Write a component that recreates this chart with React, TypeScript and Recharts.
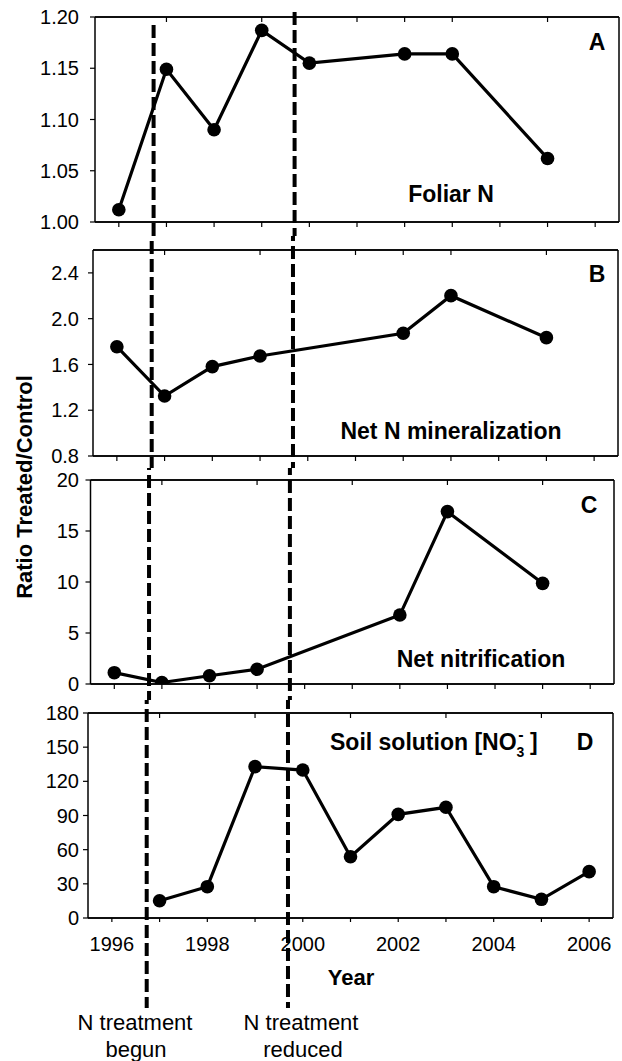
import React from 'react';
import { LineChart, Line, XAxis, YAxis, ReferenceLine } from 'recharts';

// ---------- data ----------
const yearsA = [1996, 1997, 1998, 1999, 2000, 2002, 2003, 2005];
const foliarN = [1.012, 1.149, 1.09, 1.187, 1.155, 1.164, 1.164, 1.062];

const yearsB = [1996, 1997, 1998, 1999, 2002, 2003, 2005];
const netMineralization = [1.755, 1.324, 1.581, 1.674, 1.872, 2.201, 1.834];

const yearsC = [1996, 1997, 1998, 1999, 2002, 2003, 2005];
const netNitrification = [1.11, 0.15, 0.81, 1.44, 6.76, 16.9, 9.87];

const yearsD = [1997, 1998, 1999, 2000, 2001, 2002, 2003, 2004, 2005, 2006];
const soilNO3 = [15.2, 27.5, 132.9, 129.9, 53.8, 91, 97.2, 27.5, 16.4, 40.7];

const yTicksA = [1.0, 1.05, 1.1, 1.15, 1.2];
const yTicksB = [0.8, 1.2, 1.6, 2.0, 2.4];
const yTicksC = [0, 5, 10, 15, 20];
const yTicksD = [0, 30, 60, 90, 120, 150, 180];

const yearTicks = [1996, 1997, 1998, 1999, 2000, 2001, 2002, 2003, 2004, 2005, 2006];
const yearLabels = [1996, 1998, 2000, 2002, 2004, 2006];
const topTicksAB = [1997, 1999, 2001, 2002, 2003, 2005];
const topTicksCD = [1997, 1999, 2001, 2003, 2005];

const treatmentYears = [1996.73, 1999.69];

const FONT = '"Liberation Sans", Arial, Helvetica, sans-serif';
const W = 622;
const H = 1061;
const X_DOMAIN: [number, number] = [1995.5, 2006.5];
const LINE_TOPS = [25, 12];
const LINE_BOTTOM = 1008;
const DASH = 13;
const GAP = 5;
const TICK_LEN = 5;

type PanelCfg = {
  key: string;
  top: number;
  height: number;
  plotTop: number;
  plotBottom: number;
  plotLeft: number;
  plotRight: number;
  domain: [number, number];
  yTicks: number[];
  decimals: number;
  years: number[];
  values: number[];
  topTicks: number[];
  isBottom: boolean;
};

const panels: PanelCfg[] = [
  { key: 'A', top: 0, height: 236, plotTop: 17, plotBottom: 222, plotLeft: 95, plotRight: 619,
    domain: [1.0, 1.2], yTicks: yTicksA, decimals: 2, years: yearsA, values: foliarN, topTicks: topTicksAB, isBottom: false },
  { key: 'B', top: 236, height: 232, plotTop: 250, plotBottom: 456, plotLeft: 93, plotRight: 618,
    domain: [0.8, 2.6], yTicks: yTicksB, decimals: 1, years: yearsB, values: netMineralization, topTicks: topTicksAB, isBottom: false },
  { key: 'C', top: 468, height: 232, plotTop: 480, plotBottom: 684, plotLeft: 90.5, plotRight: 614,
    domain: [0, 20], yTicks: yTicksC, decimals: 0, years: yearsC, values: netNitrification, topTicks: topTicksCD, isBottom: false },
  { key: 'D', top: 700, height: 361, plotTop: 713, plotBottom: 918, plotLeft: 88, plotRight: 613,
    domain: [0, 180], yTicks: yTicksD, decimals: 0, years: yearsD, values: soilNO3, topTicks: topTicksCD, isBottom: true },
];

function BottomYearTick(props: any) {
  const { x, y, payload } = props;
  if (!yearLabels.includes(payload.value)) return <g />;
  return (
    <text x={x} y={y + 27} textAnchor="middle" fontSize={20} fontFamily={FONT} fill="#000">
      {payload.value}
    </text>
  );
}

function Panel({ cfg }: { cfg: PanelCfg }) {
  const yAxisW = 60;
  const xAxisH = cfg.isBottom ? 30 : 10;
  const topAxisH = 10;
  const margin = {
    top: cfg.plotTop - cfg.top - topAxisH,
    bottom: cfg.top + cfg.height - cfg.plotBottom - xAxisH,
    left: cfg.plotLeft - yAxisW,
    right: W - cfg.plotRight,
  };
  const data = cfg.years.map((yr, i) => ({ year: yr, value: cfg.values[i] }));
  const [lo, hi] = cfg.domain;
  const perPx = (hi - lo) / (cfg.plotBottom - cfg.plotTop);
  const toVal = (px: number) => hi - (px - cfg.plotTop) * perPx;
  const tickDv = TICK_LEN * perPx;
  const tickSize = 5;
  const tickMargin = cfg.plotLeft - tickSize - 79;

  return (
    <div style={{ position: 'absolute', left: 0, top: cfg.top, width: W, height: cfg.height }}>
      <LineChart width={W} height={cfg.height} data={data} margin={margin}>
        <XAxis
          dataKey="year"
          type="number"
          domain={X_DOMAIN}
          allowDataOverflow
          ticks={yearTicks}
          interval={0}
          height={xAxisH}
          tickSize={cfg.isBottom ? 4 : 5}
          tickMargin={2}
          tick={cfg.isBottom ? BottomYearTick : false}
          axisLine={{ stroke: '#000', strokeWidth: 1.5 }}
          tickLine={{ stroke: '#000', strokeWidth: 1.2 }}
        />
        <XAxis
          xAxisId="top"
          orientation="top"
          type="number"
          domain={X_DOMAIN}
          allowDataOverflow
          ticks={cfg.topTicks}
          interval={0}
          height={topAxisH}
          tickSize={-5}
          tick={false}
          axisLine={{ stroke: '#000', strokeWidth: 1.5 }}
          tickLine={{ stroke: '#000', strokeWidth: 1.2 }}
        />
        <YAxis
          type="number"
          domain={cfg.domain}
          allowDataOverflow
          ticks={cfg.yTicks}
          interval={0}
          width={yAxisW}
          tickSize={tickSize}
          tickMargin={tickMargin}
          tickFormatter={(v: number) => v.toFixed(cfg.decimals)}
          tick={{ fontSize: 20, fontFamily: FONT, fill: '#000' }}
          axisLine={{ stroke: '#000', strokeWidth: 1.5 }}
          tickLine={{ stroke: '#000', strokeWidth: 1.2 }}
        />
        <ReferenceLine x={X_DOMAIN[1]} stroke="#000" strokeWidth={1.5} ifOverflow="visible" />
        <ReferenceLine y={lo} stroke="#000" strokeWidth={1.5} ifOverflow="visible" />
        <ReferenceLine y={hi} stroke="#000" strokeWidth={1.5} ifOverflow="visible" />
        {!cfg.isBottom &&
          yearTicks.map((yr) => (
            <ReferenceLine
              key={`bt-${yr}`}
              segment={[
                { x: yr, y: lo },
                { x: yr, y: lo - tickDv },
              ]}
              stroke="#000"
              strokeWidth={1.2}
              ifOverflow="visible"
            />
          ))}
        {cfg.topTicks.map((yr) => (
          <ReferenceLine
            key={`tt-${yr}`}
            segment={[
              { x: yr, y: hi },
              { x: yr, y: hi - tickDv },
            ]}
            stroke="#000"
            strokeWidth={1.2}
            ifOverflow="visible"
          />
        ))}
        <Line
          dataKey="value"
          stroke="#000"
          strokeWidth={3.2}
          dot={{ r: 6.8, fill: '#000', stroke: '#000', strokeWidth: 0 }}
          activeDot={false}
          isAnimationActive={false}
        />
        {treatmentYears.map((yr, i) => {
          const pxTop = Math.max(cfg.top, LINE_TOPS[i]);
          const pxBottom = Math.min(cfg.top + cfg.height, LINE_BOTTOM);
          const phase = (pxTop - LINE_TOPS[i]) % (DASH + GAP);
          return (
            <ReferenceLine
              key={`tr-${i}`}
              segment={[
                { x: yr, y: toVal(pxTop) },
                { x: yr, y: toVal(pxBottom) },
              ]}
              stroke="#000"
              strokeWidth={4}
              strokeDasharray={`${DASH} ${GAP}`}
              strokeDashoffset={phase}
              ifOverflow="visible"
            />
          );
        })}
      </LineChart>
    </div>
  );
}

const titleStyle = { fontFamily: FONT, fontWeight: 700, fill: '#000' } as const;

export default function App() {
  return (
    <div style={{ position: 'absolute', left: 0, top: 0, width: W, height: H, background: '#fff' }}>
      {panels.map((p) => (
        <Panel key={p.key} cfg={p} />
      ))}
      <svg
        width={W}
        height={H}
        style={{ position: 'absolute', left: 0, top: 0, pointerEvents: 'none' }}
      >
        <text x={597} y={50} textAnchor="middle" fontSize={23} {...titleStyle}>A</text>
        <text x={451} y={202} textAnchor="middle" fontSize={23} {...titleStyle}>Foliar N</text>
        <text x={597} y={282} textAnchor="middle" fontSize={23} {...titleStyle}>B</text>
        <text x={451} y={439} textAnchor="middle" fontSize={23} {...titleStyle}>Net N mineralization</text>
        <text x={589} y={513} textAnchor="middle" fontSize={23} {...titleStyle}>C</text>
        <text x={481} y={667} textAnchor="middle" fontSize={23} {...titleStyle}>Net nitrification</text>
        <text x={585} y={750} textAnchor="middle" fontSize={23} {...titleStyle}>D</text>
        <text x={330} y={750} textAnchor="start" fontSize={23} {...titleStyle}>
          Soil solution [NO
          <tspan fontSize={14} dy={7}>3</tspan>
          <tspan fontSize={16} dx={-6} dy={-17}>-</tspan>
          <tspan fontSize={23} dy={10}> ]</tspan>
        </text>
        <text
          x={0}
          y={0}
          transform="translate(32,487) rotate(-90)"
          textAnchor="middle"
          fontSize={22}
          {...titleStyle}
        >
          Ratio Treated/Control
        </text>
        <text x={351} y={985} textAnchor="middle" fontSize={22} {...titleStyle}>Year</text>
        <text x={135} y={1030} textAnchor="middle" fontSize={22} fontFamily={FONT} fill="#000">N treatment</text>
        <text x={136} y={1057} textAnchor="middle" fontSize={22} fontFamily={FONT} fill="#000">begun</text>
        <text x={301} y={1030} textAnchor="middle" fontSize={22} fontFamily={FONT} fill="#000">N treatment</text>
        <text x={303} y={1057} textAnchor="middle" fontSize={22} fontFamily={FONT} fill="#000">reduced</text>
      </svg>
    </div>
  );
}
